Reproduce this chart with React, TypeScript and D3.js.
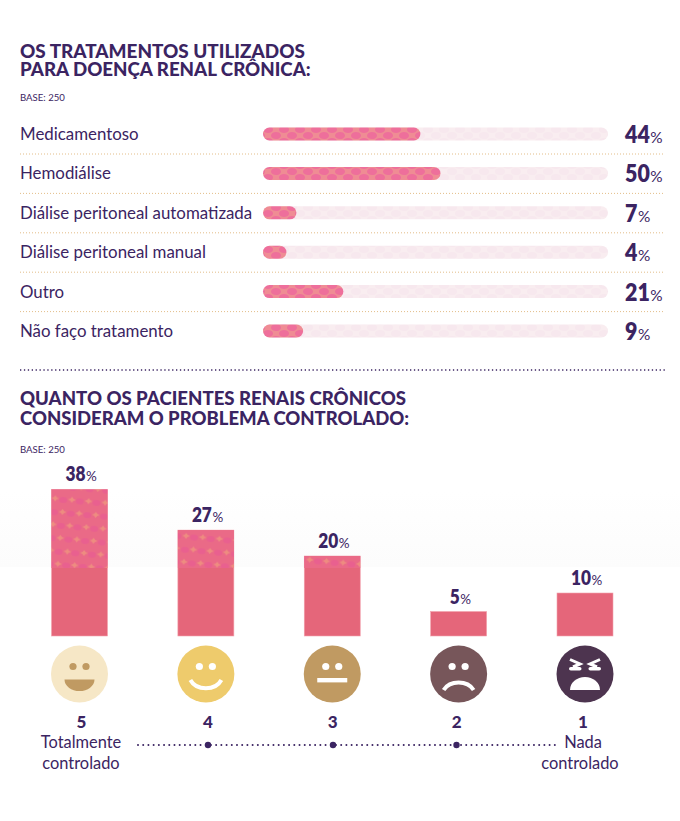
import React from "react";
import * as d3 from "d3";

const W = 680, H = 821;
const PURPLE = "#3b2462";
const treatments = ["Medicamentoso", "Hemodiálise", "Diálise peritoneal automatizada", "Diálise peritoneal manual", "Outro", "Não faço tratamento"];
const treatmentValues = [44, 50, 7, 4, 21, 9];
const levels = [5, 4, 3, 2, 1];
const levelValues = [38, 27, 20, 5, 10];
const faceColors = ["#f6e7c6", "#eecb6c", "#c09a62", "#77565a", "#4d344f"];
const digitOffsets = [2, 2, 0.5, -2, -2];

const font = "Lato, 'Open Sans', sans-serif";

function Face({ level, cx, cy, fill }: { level: number; cx: number; cy: number; fill: string }) {
  const ink = level === 5 ? "#c09a62" : "#fff";
  const eyes = (
    <>
      <circle cx={-6.5} cy={-7.5} r={3.6} fill={ink} />
      <circle cx={6.5} cy={-7.5} r={3.6} fill={ink} />
    </>
  );
  return (
    <g transform={`translate(${cx},${cy})`}>
      <circle r={28.5} fill={fill} />
      {level === 5 && (<>{eyes}<path d="M-15,5.5 H15 A15,11.5 0 0 1 -15,5.5 Z" fill={ink} /></>)}
      {level === 4 && (<>{eyes}<path d="M-15.5,6 A17,14 0 0 0 15.5,6" fill="none" stroke={ink} strokeWidth={4} /></>)}
      {level === 3 && (<>{eyes}<rect x={-15} y={4} width={30} height={4.4} fill={ink} /></>)}
      {level === 2 && (<>{eyes}<path d="M-15,16 A17,14 0 0 1 15,16" fill="none" stroke={ink} strokeWidth={4} /></>)}
      {level === 1 && (
        <>
          <path d="M-15,-14.5 L-5,-10 L-12,-7" fill="none" stroke={ink} strokeWidth={3} />
          <path d="M15,-14.5 L5,-10 L12,-7" fill="none" stroke={ink} strokeWidth={3} />
          <rect x={-16} y={-7} width={12.5} height={3.6} rx={1.8} fill={ink} />
          <rect x={3.5} y={-7} width={12.5} height={3.6} rx={1.8} fill={ink} />
          <path d="M-15,16 A15,13 0 0 1 15,16 Z" fill={ink} />
        </>
      )}
    </g>
  );
}

// Condensed numeral: no condensed face is installed, so squeeze the digits horizontally.
function Pct({ x, y, v, size, digit }: { x: number; y: number; v: number; size: number; digit: number }) {
  const s = String(v);
  const sx = digit / (0.58 * size);
  const numWidth = s.length * digit;
  return (
    <g fill={PURPLE} fontFamily={font}>
      <text transform={`translate(${x},${y}) scale(${sx},1)`} fontSize={size} fontWeight={800}>{s}</text>
      <text x={x + numWidth + 0.5} y={y} fontSize={size * 0.64} fontWeight={400}>%</text>
    </g>
  );
}

function Blobs({ fill, bg }: { fill: string; bg: string }) {
  const centers = [[5, 1.5], [5, 13.5], [13, 7.5], [-3, 7.5], [21, 1.5]];
  return (
    <>
      <rect width="16" height="12" fill={bg} />
      {centers.map(([cx, cy], i) => <ellipse key={i} cx={cx} cy={cy} rx={5} ry={3.6} fill={fill} />)}
    </>
  );
}

export default function App() {
  const xH = d3.scaleLinear().domain([0, 100]).range([273, 608]);
  const rowY = d3.scalePoint<string>().domain(treatments).range([134, 331]);
  const yV = d3.scaleLinear().domain([0, 100]).range([630, 260]);
  const xV = d3.scalePoint<number>().domain(levels).range([79.5, 585]);
  const base = 636;

  return (
    <svg width={W} height={H} style={{ position: "absolute", left: 0, top: 0 }}>
      <defs>
        <pattern id="dots" width="16" height="12" patternUnits="userSpaceOnUse" patternTransform="translate(263 128)">
          <Blobs fill="#ee6f9b" bg="#ef8c94" />
        </pattern>
        <pattern id="track" width="16" height="12" patternUnits="userSpaceOnUse" patternTransform="translate(263 128)">
          <Blobs fill="#f7e8ee" bg="#f9edf0" />
        </pattern>
        <pattern id="stars" width="16.7" height="26" patternUnits="userSpaceOnUse" patternTransform="translate(52 490) rotate(5)">
          <rect width="16.7" height="26" fill="#ea6a87" />
          <ellipse cx="12" cy="9" rx="4" ry="3" fill="#e9608f" />
          <ellipse cx="4" cy="22" rx="4" ry="3" fill="#e9608f" />
          <path d="M4,5 q1.2,2.4 4,3 q-2.8,0.6 -4,3 q-1.2,-2.4 -4,-3 q2.8,-0.6 4,-3 Z" fill="#ee8c80" />
          <path d="M12.4,18 q1.2,2.4 4,3 q-2.8,0.6 -4,3 q-1.2,-2.4 -4,-3 q2.8,-0.6 4,-3 Z" fill="#ee8c80" />
        </pattern>
        <linearGradient id="fog" x1="0" x2="0" y1="0" y2="1">
          <stop offset="0" stopColor="#fcfcfc" stopOpacity={0} />
          <stop offset="1" stopColor="#fcfcfc" />
        </linearGradient>
      </defs>

      <rect x={0} y={490} width={W} height={77} fill="url(#fog)" />

      <g fontFamily={font} fill={PURPLE} fontWeight={900}>
        <text x={20} y={58} fontSize={18.9}>OS TRATAMENTOS UTILIZADOS</text>
        <text x={20} y={76} fontSize={18.7}>PARA DOENÇA RENAL CRÔNICA:</text>
        <text x={20} y={405} fontSize={18.6}>QUANTO OS PACIENTES RENAIS CRÔNICOS</text>
        <text x={20} y={425} fontSize={18.5}>CONSIDERAM O PROBLEMA CONTROLADO:</text>
      </g>
      <g fontFamily={font} fill={PURPLE} fontSize={9.6}>
        <text x={20} y={101}>BASE: 250</text>
        <text x={20} y={453}>BASE: 250</text>
      </g>

      {treatments.map((t, i) => {
        const y = rowY(t)!;
        const v = treatmentValues[i];
        return (
          <g key={t}>
            <text x={20} y={y + 6} fill={PURPLE} fontFamily={font} fontSize={16.85}>{t}</text>
            <rect x={263} y={y - 6.5} width={345} height={13} rx={6.5} fill="url(#track)" />
            <rect x={263} y={y - 6.5} width={xH(v) - 263} height={13} rx={6.5} fill="url(#dots)" />
            <Pct x={625} y={y + 9} v={v} size={24} digit={12.4} />
            {i < treatments.length - 1 && (
              <line x1={20} x2={665} y1={y + 20} y2={y + 20} stroke="#e3bd88" strokeWidth={1} strokeDasharray="1 2" />
            )}
          </g>
        );
      })}

      <line x1={20} x2={667} y1={370} y2={370} stroke={PURPLE} strokeWidth={1.3} strokeDasharray="1.3 2.6" />

      {levels.map((l, i) => {
        const cx = xV(l)!;
        const v = levelValues[i];
        const y = yV(v);
        const split = 568;
        const numW = String(v).length * 10;
        return (
          <g key={l}>
            <rect x={cx - 28} y={y} width={56} height={base - y} fill="#e5667a" stroke="#f2a3ad" strokeWidth={0.6} />
            {y < split && <rect x={cx - 28} y={y} width={56} height={split - y} fill="url(#stars)" />}
            <Pct x={cx - (numW + 10) / 2 + 1} y={y - 8} v={v} size={21} digit={10} />
            <Face level={l} cx={cx} cy={674} fill={faceColors[i]} />
            <text x={cx + digitOffsets[i]} y={728} textAnchor="middle" fill={PURPLE} fontFamily={font} fontWeight={900} fontSize={17}>{l}</text>
          </g>
        );
      })}

      <g fontFamily={font} fill={PURPLE} fontSize={16.4} textAnchor="middle">
        <text x={81} y={748}>Totalmente</text>
        <text x={81} y={769}>controlado</text>
        <text x={583} y={748}>Nada</text>
        <text x={580} y={769}>controlado</text>
      </g>

      <line x1={138} x2={555} y1={745} y2={745} stroke={PURPLE} strokeWidth={2} strokeLinecap="round" strokeDasharray="0.01 5.2" />
      {[208, 333, 456.5].map((x) => <circle key={x} cx={x} cy={745} r={3.2} fill={PURPLE} />)}
    </svg>
  );
}
